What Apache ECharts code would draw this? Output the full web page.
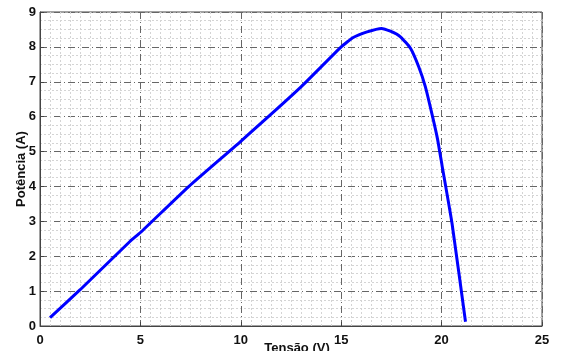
<!DOCTYPE html>
<html>
<head>
<meta charset="utf-8">
<script src="https://cdn.jsdelivr.net/npm/echarts@6/dist/echarts.min.js"></script>
<style>
  html, body { margin: 0; padding: 0; background: #fff; }
  #chart { width: 568px; height: 351px; }
</style>
</head>
<body>
<div id="chart"></div>
<script>
// curva P x V
const tensao = [0.5, 2.0, 4.49, 5.0, 7.39, 9.97, 12.96, 15.0, 15.6, 16.29, 17.0, 17.45, 17.95, 18.45, 18.86, 19.19, 19.53, 19.8, 20.02, 20.52, 21.19];
const potencia = [0.24, 1.04, 2.43, 2.68, 3.99, 5.28, 6.83, 8.0, 8.27, 8.43, 8.53, 8.45, 8.29, 7.96, 7.43, 6.86, 6.05, 5.35, 4.61, 2.94, 0.12];

const chart = echarts.init(document.getElementById("chart"), null, { renderer: "canvas" });

const labelStyle = { color: "#111", fontSize: 13, fontWeight: "bold", fontFamily: "Liberation Sans, Arial" };
const nameStyle = { color: "#111", fontSize: 13, fontWeight: "bold", fontFamily: "Liberation Sans, Arial" };
const majorLine = { show: true, lineStyle: { color: "#666", width: 1, type: [7, 3, 1, 3] } };
const minorLine = { show: true, lineStyle: { color: "#d4d4d4", width: 1, type: [2, 2] } };

chart.setOption({
  animation: false,
  grid: {
    left: 40, right: 26, top: 12, bottom: 25,
    outerBoundsMode: "none",
    containLabel: false,
    show: true, borderColor: "#444", borderWidth: 1
  },
  xAxis: {
    type: "value",
    min: 0, max: 25, interval: 5,
    name: "Tensão (V)",
    nameLocation: "middle",
    nameGap: 16,
    nameMoveOverlap: false,
    nameTextStyle: Object.assign({ padding: [0, 0, 0, 12] }, nameStyle),
    axisLine: { show: true, lineStyle: { color: "#444" } },
    axisTick: { show: true, inside: true, length: 4, lineStyle: { color: "#444" } },
    axisLabel: Object.assign({ margin: 8 }, labelStyle),
    splitLine: majorLine,
    minorTick: { show: false, splitNumber: 10 },
    minorSplitLine: minorLine
  },
  yAxis: {
    type: "value",
    min: 0, max: 9, interval: 1,
    name: "Potência (A)",
    nameLocation: "middle",
    nameGap: 12,
    nameMoveOverlap: false,
    nameTextStyle: nameStyle,
    axisLine: { show: true, lineStyle: { color: "#444" } },
    axisTick: { show: true, inside: true, length: 4, lineStyle: { color: "#444" } },
    axisLabel: Object.assign({ margin: 4 }, labelStyle),
    splitLine: majorLine,
    minorTick: { show: false, splitNumber: 4 },
    minorSplitLine: minorLine
  },
  series: [{
    type: "line",
    data: tensao.map((v, i) => [v, potencia[i]]),
    smooth: 0.15,
    showSymbol: false,
    lineStyle: { color: "#0000ff", width: 3 }
  }]
});
</script>
</body>
</html>
